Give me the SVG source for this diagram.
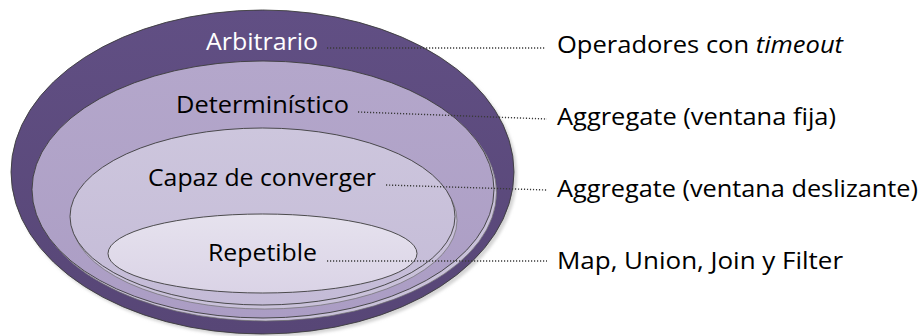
<svg xmlns="http://www.w3.org/2000/svg" width="924" height="336" viewBox="0 0 924 336">
  <style>
    .lbl { font-family: "Open Sans", "Liberation Sans", sans-serif; font-size: 24px; fill: #000; }
    .lbl-w { fill: #ffffff; }
    .ring { stroke: #3c3c3c; stroke-width: 0.9; }
    .shade { fill: #c9c1da; stroke: #6e6e6e; stroke-width: 0.7; }
    .dots { fill: none; stroke: #3a3a3a; stroke-width: 1.4; stroke-dasharray: 1.2 1.8; }
  </style>
  <defs>
    <linearGradient id="gOuter" x1="0" y1="0" x2="0" y2="1">
      <stop offset="0" stop-color="#614f84"/>
      <stop offset="1" stop-color="#574676"/>
    </linearGradient>
    <linearGradient id="gDet" x1="0" y1="0" x2="0" y2="1">
      <stop offset="0" stop-color="#b4a7cb"/>
      <stop offset="1" stop-color="#ab9dc4"/>
    </linearGradient>
    <linearGradient id="gConv" x1="0" y1="0" x2="0" y2="1">
      <stop offset="0" stop-color="#cdc6dd"/>
      <stop offset="1" stop-color="#c4bbd7"/>
    </linearGradient>
    <linearGradient id="gRep" x1="0" y1="0" x2="0" y2="1">
      <stop offset="0" stop-color="#e6e2ee"/>
      <stop offset="1" stop-color="#dad3e6"/>
    </linearGradient>
    <filter id="soft" x="-5%" y="-5%" width="110%" height="110%">
      <feGaussianBlur stdDeviation="1.6"/>
    </filter>
  </defs>

  <!-- nested sets -->
  <g id="arbitrario">
    <ellipse cx="265" cy="175" rx="252" ry="162" fill="#d4d4d4" filter="url(#soft)"/>
    <ellipse class="ring" cx="262.5" cy="172" rx="251.5" ry="162" fill="url(#gOuter)"/>
    <text class="lbl lbl-w" x="206" y="50" textLength="112" lengthAdjust="spacingAndGlyphs">Arbitrario</text>
  </g>

  <g id="deterministico">
    <ellipse class="shade" cx="265.5" cy="192.5" rx="231" ry="128.5"/>
    <ellipse class="ring" cx="263" cy="189.5" rx="231" ry="128.5" fill="url(#gDet)"/>
    <text class="lbl" x="176" y="113" textLength="173" lengthAdjust="spacingAndGlyphs">Determinístico</text>
  </g>

  <g id="converger">
    <ellipse class="shade" cx="264.5" cy="220.5" rx="192.5" ry="88.5"/>
    <ellipse class="ring" cx="262.5" cy="216.5" rx="192.5" ry="88.5" fill="url(#gConv)"/>
    <text class="lbl" x="148" y="186" textLength="228" lengthAdjust="spacingAndGlyphs">Capaz de converger</text>
  </g>

  <g id="repetible">
    <ellipse class="ring" cx="262.5" cy="253.5" rx="154.5" ry="39.5" fill="url(#gRep)"/>
    <text class="lbl" x="208" y="261" textLength="109" lengthAdjust="spacingAndGlyphs">Repetible</text>
  </g>

  <!-- leader lines -->
  <g id="connectors">
    <path class="dots" d="M327 48 L546 48"/>
    <path class="dots" d="M358 112 L547 119"/>
    <path class="dots" d="M386 185 L547 190"/>
    <path class="dots" d="M327 261 L547 261"/>
  </g>

  <!-- operator examples -->
  <g id="ejemplos">
    <text class="lbl" x="557" y="53" textLength="286" lengthAdjust="spacingAndGlyphs">Operadores con <tspan font-style="italic">timeout</tspan></text>
    <text class="lbl" x="557" y="125" textLength="279" lengthAdjust="spacingAndGlyphs">Aggregate (ventana fija)</text>
    <text class="lbl" x="557" y="197" textLength="361" lengthAdjust="spacingAndGlyphs">Aggregate (ventana deslizante)</text>
    <text class="lbl" x="557" y="269" textLength="286" lengthAdjust="spacingAndGlyphs">Map, Union, Join y Filter</text>
  </g>
</svg>
